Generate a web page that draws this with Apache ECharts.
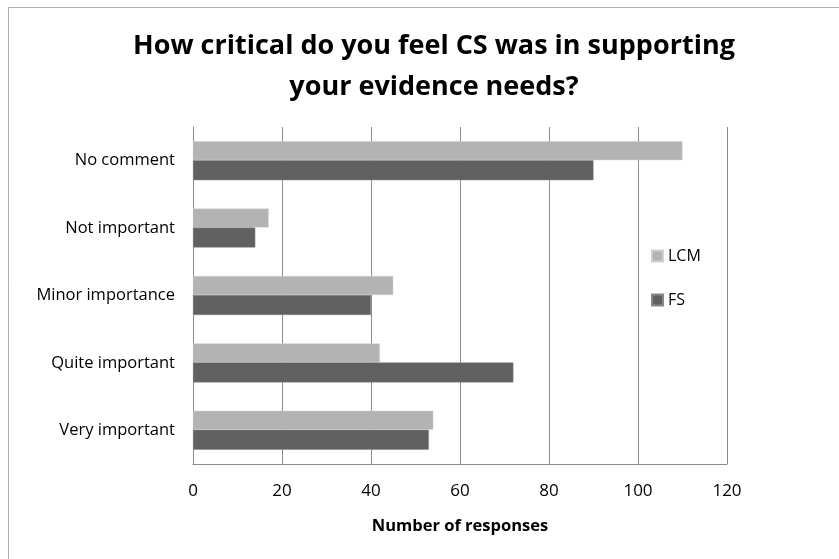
<!DOCTYPE html>
<html>
<head>
<meta charset="utf-8">
<script src="https://cdn.jsdelivr.net/npm/echarts@6/dist/echarts.min.js"></script>
<style>
  html, body { margin: 0; padding: 0; background: #fff; }
  #chart { width: 839px; height: 559px; }
</style>
</head>
<body>
<div id="chart"></div>
<script>
const categories = ['No comment', 'Not important', 'Minor importance', 'Quite important', 'Very important']
const lcmValues = [110, 17, 45, 42, 54]
const fsValues = [90, 14, 40, 72, 53]
const xTicks = [0, 20, 40, 60, 80, 100, 120]

const chart = echarts.init(document.getElementById('chart'))
const font = 'Open Sans'

const option = {
  backgroundColor: '#fff',
  animation: false,
  title: {
    text: 'How critical do you feel CS was in supporting\nyour evidence needs?',
    left: 429,
    textAlign: 'center',
    top: 21,
    textStyle: {
      fontFamily: font,
      fontSize: 27,
      fontWeight: 'bold',
      color: '#000',
      lineHeight: 41
    }
  },
  graphic: [{
    type: 'rect',
    shape: { x: 8.5, y: 7.5, width: 840, height: 560 },
    style: { fill: 'none', stroke: '#b0b0b0', lineWidth: 1 },
    silent: true
  }],
  legend: {
    orient: 'vertical',
    left: 646,
    top: 243,
    itemWidth: 11,
    itemHeight: 11,
    itemGap: 28,
    icon: 'rect',
    textStyle: { fontFamily: font, fontSize: 16, color: '#000' },
    data: ['LCM', 'FS']
  },
  grid: { left: 193, right: 112, top: 127, bottom: 95 },
  xAxis: {
    type: 'value',
    min: xTicks[0],
    max: xTicks[xTicks.length - 1],
    interval: 20,
    name: 'Number of responses',
    nameLocation: 'middle',
    nameGap: 54,
    nameTextStyle: { fontFamily: font, fontSize: 16.5, fontWeight: 'bold', color: '#000' },
    axisLine: { show: true, lineStyle: { color: '#8c8c8c', width: 1 } },
    axisTick: { show: false },
    axisLabel: { fontFamily: font, fontSize: 17, color: '#000', margin: 19 },
    splitLine: { show: true, lineStyle: { color: '#8c8c8c', width: 1 } }
  },
  yAxis: {
    type: 'category',
    inverse: true,
    data: categories,
    axisLine: { show: true, lineStyle: { color: '#8c8c8c', width: 1 } },
    axisTick: { show: false },
    axisLabel: { fontFamily: font, fontSize: 16.5, color: '#000', margin: 18 }
  },
  series: [
    {
      name: 'LCM',
      type: 'bar',
      data: lcmValues,
      barWidth: 19,
      barGap: '0%',
      itemStyle: { color: '#b3b3b3', borderColor: '#d0d0d0', borderWidth: 0.5 }
    },
    {
      name: 'FS',
      type: 'bar',
      data: fsValues,
      barWidth: 20,
      barGap: '0%',
      itemStyle: { color: '#606060', borderColor: '#888', borderWidth: 0.5 }
    }
  ]
}

chart.setOption(option)
</script>
</body>
</html>
